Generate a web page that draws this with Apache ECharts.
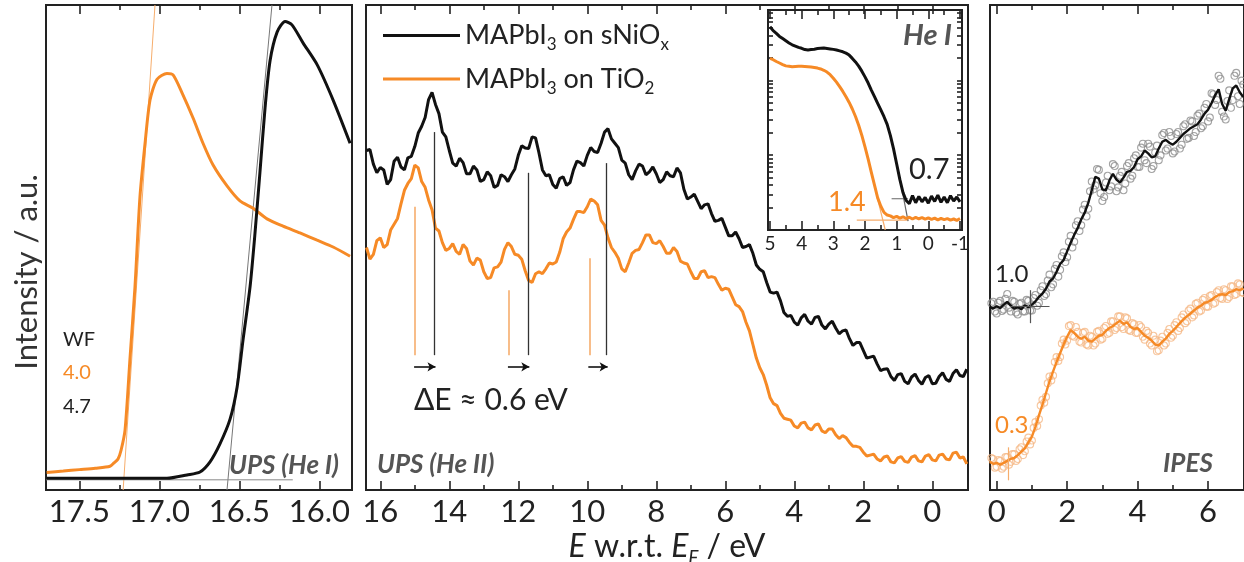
<!DOCTYPE html>
<html>
<head>
<meta charset="utf-8">
<script src="https://cdn.jsdelivr.net/npm/echarts@6/dist/echarts.min.js"></script>
<style>
  html, body { margin: 0; padding: 0; background: #fff; }
  #chart { width: 1244px; height: 562px; }
</style>
</head>
<body>
<div id="chart"></div>
<script>
// ---- data: SECO (He I), binding energy in eV, intensity a.u.
var secoOrangeE = [17.704, 17.6, 17.5, 17.4, 17.308, 17.283, 17.258, 17.239, 17.214, 17.183, 17.152, 17.121, 17.089, 17.058, 17.014, 16.952, 16.914, 16.858, 16.789, 16.727, 16.664, 16.577, 16.496, 16.414, 16.327, 16.227, 16.121, 16.014, 15.914, 15.808]
var secoOrangeI = [3.6, 3.9, 4.2, 4.5, 4.9, 5.6, 6.4, 8.2, 12.4, 27.2, 41.9, 60.4, 71.5, 80.4, 84.7, 85.9, 85.6, 81.9, 76.7, 71.5, 67.0, 62.7, 59.6, 58.1, 55.9, 54.4, 53.0, 51.5, 50.1, 48.2]
var secoBlackE = [17.704, 17.2, 16.952, 16.827, 16.746, 16.683, 16.621, 16.558, 16.514, 16.477, 16.433, 16.402, 16.371, 16.339, 16.308, 16.264, 16.214, 16.171, 16.102, 16.014, 15.914, 15.808]
var secoBlackI = [2.4, 2.4, 2.4, 3.1, 3.7, 5.8, 9.5, 14.6, 21.2, 30.9, 41.9, 53.0, 65.6, 78.9, 88.5, 94.4, 96.6, 95.9, 92.2, 87.7, 80.4, 71.5]
var secoFitOrange = [[17.226, 0], [17.027, 100]]
var secoFitBlack = [[16.577, 0], [16.296, 100]]
var secoBaseline = [[17.708, 2.1], [16.166, 2.1]]
var wfValues = ['4.0', '4.7']

// ---- data: UPS He II (two interleaved energy grids)
var upsE = [16.4, 16.2, 16.0, 15.8, 15.6, 15.4, 15.2, 15.0, 14.8, 14.6, 14.4, 14.2, 14.0, 13.8, 13.6, 13.4, 13.2, 13.0, 12.8, 12.6, 12.4, 12.2, 12.0, 11.8, 11.6, 11.4, 11.2, 11.0, 10.8, 10.6, 10.4, 10.2, 10.0, 9.8, 9.6, 9.4, 9.2, 9.0, 8.8, 8.6, 8.4, 8.2, 8.0, 7.8, 7.6, 7.4, 7.2, 7.0, 6.8, 6.6, 6.4, 6.2, 6.0, 5.8, 5.6, 5.4, 5.2, 5.0, 4.8, 4.6, 4.4, 4.2, 4.0, 3.8, 3.6, 3.4, 3.2, 3.0, 2.8, 2.6, 2.4, 2.2, 2.0, 1.8, 1.6, 1.4, 1.2, 1.0, 0.8, 0.6, 0.4, 0.2, 0.0, -0.2, -0.4, -0.6, -0.8, -1.0]
var upsBlack = [70.0, 67.2, 66.5, 63.0, 67.8, 66.6, 68.5, 70.8, 75.0, 80.5,
  79.5, 73.8, 70.0, 66.8, 67.5, 65.2, 66.0, 64.0, 64.8, 62.8,
  64.6, 65.0, 69.0, 70.5, 72.8, 69.5, 64.8, 63.0, 64.2, 62.8,
  66.0, 67.5, 69.0, 69.8, 71.5, 74.5, 71.5, 68.0, 65.0, 65.8,
  66.8, 65.6, 65.2, 64.0, 64.8, 66.4, 62.0, 60.4, 59.5, 58.8,
  57.0, 55.6, 54.2, 52.4, 51.8, 50.2, 48.8, 45.5, 42.8, 40.6,
  39.0, 35.8, 34.6, 35.5, 34.8, 35.6, 34.0, 34.2, 33.4, 32.8,
  31.2, 30.4, 28.8, 27.4, 26.0, 24.9, 23.4, 23.8, 22.4, 23.3,
  22.6, 23.2, 21.9, 23.4, 22.8, 24.0, 23.6, 24.9]
var upsOrange = [50.0, 48.6, 52.0, 50.6, 54.8, 59.0, 63.2, 67.0, 63.6, 59.8,
  54.0, 51.0, 49.8, 49.2, 50.6, 47.2, 47.8, 45.0, 43.8, 46.0,
  49.6, 50.2, 48.4, 45.2, 42.8, 45.0, 45.6, 46.6, 49.0, 53.2,
  55.8, 57.4, 58.4, 59.6, 55.6, 52.0, 49.0, 45.6, 46.8, 49.4,
  51.0, 52.6, 50.8, 50.2, 48.8, 49.2, 46.8, 45.0, 43.6, 45.2,
  44.0, 42.4, 41.6, 39.8, 37.8, 34.6, 30.0, 25.2, 21.6, 17.8,
  15.8, 14.6, 13.2, 13.8, 12.8, 13.4, 12.2, 12.6, 11.4, 11.2,
  9.8, 9.0, 7.8, 7.2, 6.4, 6.8, 5.8, 6.6, 5.9, 6.8,
  6.0, 7.0, 6.2, 7.2, 6.4, 7.6, 6.6, 5.4]
var upsEMid = [16.3, 16.1, 15.9, 15.7, 15.5, 15.3, 15.1, 14.9, 14.7, 14.5, 14.3, 14.1, 13.9, 13.7, 13.5, 13.3, 13.1, 12.9, 12.7, 12.5, 12.3, 12.1, 11.9, 11.7, 11.5, 11.3, 11.1, 10.9, 10.7, 10.5, 10.3, 10.1, 9.9, 9.7, 9.5, 9.3, 9.1, 8.9, 8.7, 8.5, 8.3, 8.1, 7.9, 7.7, 7.5, 7.3, 7.1, 6.9, 6.7, 6.5, 6.3, 6.1, 5.9, 5.7, 5.5, 5.3, 5.1, 4.9, 4.7, 4.5, 4.3, 4.1, 3.9, 3.7, 3.5, 3.3, 3.1, 2.9, 2.7, 2.5, 2.3, 2.1, 1.9, 1.7, 1.5, 1.3, 1.1, 0.9, 0.7, 0.5, 0.3, 0.1, -0.1, -0.3, -0.5, -0.7, -0.9]
var upsBlackMid = [70.2, 65.4, 66.0, 64.0, 68.6, 66.0, 68.8, 73.6, 76.8, 82.0,
  77.6, 72.8, 67.4, 68.4, 65.2, 66.8, 63.6, 65.6, 62.4, 65.0,
  63.6, 66.2, 71.0, 70.4, 72.6, 66.0, 65.0, 62.2, 64.6, 63.4,
  67.8, 66.8, 70.6, 69.6, 73.8, 72.4, 70.6, 67.4, 64.0, 67.2,
  65.0, 66.6, 63.4, 65.6, 64.6, 65.4, 60.0, 61.0, 58.0, 59.0,
  55.4, 56.0, 52.4, 53.2, 50.0, 50.6, 46.4, 45.0, 40.8, 40.8,
  36.6, 36.0, 34.0, 36.2, 34.2, 35.8, 33.2, 34.8, 32.2, 33.0,
  29.8, 30.4, 27.2, 27.6, 24.6, 25.0, 22.6, 24.0, 21.9, 23.9,
  21.8, 23.6, 22.0, 24.2, 22.4, 24.8, 23.4]
var upsOrangeMid = [47.6, 51.4, 50.0, 53.6, 56.0, 61.8, 64.2, 66.4, 62.4, 57.8,
  53.4, 49.4, 50.8, 48.6, 49.8, 46.4, 47.4, 43.6, 45.8, 47.0,
  51.0, 48.6, 47.6, 43.2, 44.6, 44.6, 46.8, 47.0, 51.8, 54.0,
  57.4, 57.2, 60.0, 58.8, 54.6, 50.0, 47.8, 45.0, 48.8, 49.6,
  52.6, 51.0, 51.4, 48.8, 50.0, 47.2, 46.6, 43.6, 45.0, 43.8,
  43.8, 41.2, 41.4, 38.2, 36.8, 32.8, 27.2, 23.8, 19.0, 17.4,
  14.8, 14.4, 12.8, 14.0, 12.4, 13.6, 11.8, 12.6, 10.6, 10.8,
  9.0, 8.8, 7.0, 7.4, 6.0, 7.0, 5.6, 6.9, 5.7, 7.1,
  5.8, 7.3, 6.0, 7.4, 6.2, 7.8, 6.8]
// peak positions used for the shift markers
var peakOrangeE = [14.99, 12.27, 9.94]
var peakBlackE = [14.44, 11.72, 9.45]
var peakOrangeTop = [58.4, 41.2, 47.8]
var peakBlackTop = [73.8, 65.4, 67.4]
var peakMarkBottom = 27.8
var shiftArrowI = 25.4

// ---- data: inset He I valence band edge
var vbmE = [5.0, 4.9, 4.8, 4.7, 4.6, 4.5, 4.4, 4.3, 4.2, 4.1, 4.0, 3.9, 3.8, 3.7, 3.6, 3.5, 3.4, 3.3, 3.2, 3.1, 3.0, 2.9, 2.8, 2.7, 2.6, 2.5, 2.4, 2.3, 2.2, 2.1, 2.0, 1.9, 1.8, 1.7, 1.6, 1.5, 1.4, 1.3, 1.2, 1.1, 1.0, 0.9, 0.8, 0.7, 0.6, 0.5, 0.4, 0.3, 0.2, 0.1, 0.0, -0.1, -0.2, -0.3, -0.4, -0.5, -0.6, -0.7, -0.8, -0.9, -1.0]
var vbmBlack = [92.4, 90.6, 89.4, 88.0, 87.0, 86.0, 85.0, 84.2, 83.6, 83.0,
  82.6, 82.0, 81.8, 82.0, 82.2, 82.5, 82.6, 82.7, 82.5, 82.3,
  82.1, 81.8, 81.4, 81.0, 80.4, 79.5, 78.0, 76.4, 74.5, 72.2,
  69.6, 66.8, 63.6, 60.6, 57.6, 54.6, 51.5, 48.0, 43.0, 37.0,
  30.0, 23.0, 17.0, 13.4, 12.0, 15.6, 12.4, 15.2, 12.8, 14.8,
  12.2, 15.4, 13.0, 15.8, 12.6, 15.0, 12.4, 15.6, 13.2, 15.0, 12.8]
var vbmOrange = [78.0, 77.4, 76.6, 75.9, 75.2, 74.6, 74.4, 74.2, 74.3, 74.4,
  74.4, 74.3, 74.2, 74.1, 73.9, 73.6, 73.2, 72.6, 71.8, 70.6,
  69.0, 67.2, 65.2, 63.0, 60.6, 58.0, 55.0, 51.6, 47.6, 43.0,
  37.8, 32.2, 26.2, 20.4, 14.6, 10.8, 8.0, 6.8, 6.4, 5.6,
  6.2, 5.4, 6.0, 5.2, 5.8, 5.0, 5.7, 5.1, 5.6, 4.9,
  5.5, 4.8, 5.4, 4.6, 5.3, 4.7, 5.2, 4.5, 5.0, 4.4, 5.2]
var vbmFitBlack = [[0.88, 22], [0.64, 4]]
var vbmBaseBlack = [[1.16, 14.2], [0.64, 14.2]]
var vbmFitOrange = [[1.65, 17], [1.36, 0]]
var vbmBaseOrange = [[2.26, 4.5], [0.63, 4.5]]
var vbmValues = ['0.7', '1.4']

// ---- data: IPES
var ipesE = [-0.2, -0.1, 0.0, 0.1, 0.2, 0.3, 0.4, 0.5, 0.6, 0.7, 0.8, 0.9, 1.0, 1.1, 1.2, 1.3, 1.4, 1.5, 1.6, 1.7, 1.8, 1.9, 2.0, 2.1, 2.2, 2.3, 2.4, 2.5, 2.6, 2.7, 2.8, 2.9, 3.0, 3.1, 3.2, 3.3, 3.4, 3.5, 3.6, 3.7, 3.8, 3.9, 4.0, 4.1, 4.2, 4.3, 4.4, 4.5, 4.6, 4.7, 4.8, 4.9, 5.0, 5.1, 5.2, 5.3, 5.4, 5.5, 5.6, 5.7, 5.8, 5.9, 6.0, 6.1, 6.2, 6.3, 6.4, 6.5, 6.6, 6.7, 6.8, 6.9, 7.0]
var ipesBlack = [37.8, 37.4, 37.9, 37.5, 38.2, 38.8, 38.0, 37.4, 37.7, 37.3,
  38.1, 37.7, 38.2, 38.9, 39.8, 40.5, 41.5, 43.0, 43.6, 45.0,
  46.6, 47.4, 49.2, 51.0, 52.6, 54.0, 55.8, 57.2, 59.2, 61.8,
  64.6, 64.2, 62.0, 61.8, 63.8, 65.2, 64.0, 63.4, 64.4, 65.6,
  65.8, 66.6, 68.2, 68.8, 70.0, 69.4, 68.6, 68.8, 70.4, 71.8,
  72.2, 71.6, 71.2, 71.8, 72.6, 73.4, 74.0, 74.6, 75.0, 75.4,
  76.4, 77.6, 78.4, 79.8, 81.4, 82.6, 79.6, 78.2, 80.6, 82.8,
  83.4, 82.0, 81.0]
var ipesOrange = [5.8, 5.4, 5.6, 5.2, 5.6, 6.0, 6.4, 6.6, 7.2, 7.9,
  8.6, 9.8, 11.0, 13.0, 15.4, 17.6, 20.0, 22.4, 24.4, 26.4,
  28.2, 30.0, 31.6, 33.0, 32.4, 31.6, 31.2, 31.6, 30.8, 30.6,
  31.2, 31.8, 32.0, 32.8, 33.4, 33.8, 34.4, 34.9, 34.2, 34.6,
  33.6, 33.2, 33.4, 32.6, 31.8, 31.4, 30.8, 30.0, 29.8, 30.6,
  31.2, 32.2, 32.8, 33.6, 34.4, 35.2, 35.8, 36.4, 37.0, 37.6,
  38.0, 38.6, 38.8, 39.2, 39.8, 40.2, 40.4, 40.2, 40.8, 41.0,
  41.4, 41.2, 41.6]
// raw IPES counts (open circles), two interleaved sets
var ipesRawE = [-0.15, -0.05, 0.05, 0.15, 0.25, 0.35, 0.45, 0.55, 0.65, 0.75, 0.85, 0.95, 1.05, 1.15, 1.25, 1.35, 1.45, 1.55, 1.65, 1.75, 1.85, 1.95, 2.05, 2.15, 2.25, 2.35, 2.45, 2.55, 2.65, 2.75, 2.85, 2.95, 3.05, 3.15, 3.25, 3.35, 3.45, 3.55, 3.65, 3.75, 3.85, 3.95, 4.05, 4.15, 4.25, 4.35, 4.45, 4.55, 4.65, 4.75, 4.85, 4.95, 5.05, 5.15, 5.25, 5.35, 5.45, 5.55, 5.65, 5.75, 5.85, 5.95, 6.05, 6.15, 6.25, 6.35, 6.45, 6.55, 6.65, 6.75, 6.85, 6.95]
var ipesRawBlackA = [38.5, 36.8, 38.6, 36.9, 39.4, 37.6, 39.0, 36.6, 38.4, 36.8,
  39.2, 37.0, 39.6, 38.0, 41.2, 40.0, 43.2, 41.8, 45.6, 44.0,
  48.2, 47.0, 51.2, 50.0, 54.6, 53.4, 57.8, 56.4, 61.6, 62.0,
  66.2, 61.2, 60.4, 64.8, 62.6, 66.8, 62.4, 65.6, 63.2, 67.4,
  64.8, 69.0, 66.6, 71.4, 67.4, 70.8, 66.8, 71.0, 69.0, 73.6,
  70.4, 73.0, 69.8, 73.8, 71.2, 75.4, 72.6, 76.0, 73.8, 77.6,
  75.0, 79.6, 76.8, 81.6, 80.4, 84.8, 77.0, 80.2, 78.8, 85.4,
  81.2, 84.4]
var ipesRawBlackB = [36.6, 38.8, 36.4, 39.0, 37.2, 40.4, 36.8, 38.8, 36.2, 38.6,
  36.8, 39.0, 37.0, 40.2, 38.6, 42.0, 40.4, 44.4, 42.4, 46.4,
  45.4, 49.0, 48.0, 52.4, 51.2, 55.4, 54.6, 58.8, 58.0, 63.6,
  62.8, 66.0, 59.6, 63.4, 61.8, 67.2, 61.6, 64.8, 61.8, 66.8,
  64.2, 68.4, 66.6, 70.6, 68.0, 71.4, 66.2, 69.6, 68.0, 73.2,
  70.0, 73.8, 69.4, 73.4, 70.4, 75.0, 72.4, 76.2, 73.0, 77.2,
  74.6, 78.8, 76.0, 81.8, 79.4, 85.4, 78.0, 76.4, 82.4, 80.4,
  86.0, 79.6, 83.6]
var ipesRawOrangeA = [6.6, 4.6, 6.2, 4.4, 6.8, 5.2, 7.4, 6.0, 8.4, 7.2,
  10.0, 9.4, 12.8, 13.2, 17.4, 18.0, 22.0, 22.6, 26.4, 26.6,
  30.2, 30.0, 33.8, 31.8, 33.6, 30.6, 32.4, 30.0, 31.8, 29.8,
  32.6, 31.0, 33.4, 32.2, 34.8, 33.0, 35.8, 33.6, 35.6, 33.0,
  34.4, 32.4, 34.0, 31.6, 32.8, 30.2, 31.8, 28.6, 30.8, 29.8,
  32.4, 31.4, 34.0, 32.8, 35.6, 34.4, 37.0, 35.6, 38.4, 36.8,
  39.2, 37.8, 40.0, 38.4, 40.8, 39.6, 41.4, 39.4, 42.0, 40.2,
  42.6, 40.8]
var ipesRawOrangeB = [5.0, 6.4, 4.8, 6.0, 4.8, 6.8, 5.8, 7.4, 6.4, 8.8,
  8.0, 10.8, 10.2, 14.0, 14.6, 18.6, 19.2, 23.4, 23.6, 27.4,
  27.4, 31.0, 30.8, 34.0, 31.6, 32.6, 30.4, 32.6, 29.8, 31.6,
  30.2, 32.8, 31.2, 33.8, 32.4, 34.8, 33.4, 35.8, 33.2, 35.4,
  32.8, 34.2, 32.4, 33.6, 31.0, 32.4, 29.8, 31.0, 28.8, 31.6,
  30.2, 33.2, 31.8, 34.6, 33.4, 36.2, 34.8, 37.4, 36.0, 38.6,
  37.0, 39.6, 37.8, 40.2, 38.6, 41.2, 39.4, 41.2, 39.8, 42.0,
  40.4, 42.4, 40.6]
var ipesOnsetE = [0.94, 0.33]
var ipesOnsetI = [37.8, 5.4]
var ipesValues = ['1.0', '0.3']

// ---- tick labels
var secoTicks = [17.5, 17.0, 16.5, 16.0]
var secoMinor = [17.25, 16.75, 16.25]
var upsTicks = [16, 14, 12, 10, 8, 6, 4, 2, 0]
var upsMinor = [15, 13, 11, 9, 7, 5, 3, 1]
var vbmTicks = [5, 4, 3, 2, 1, 0, -1]
var vbmMinor = [4.5, 3.5, 2.5, 1.5, 0.5, -0.5]
var vbmYTicks = [34, 68, 10.2, 16.2, 20.5, 23.8, 26.5, 28.7, 30.7, 32.4, 44.2, 50.2, 54.5, 57.8, 60.5, 62.7, 64.7, 66.4, 78.2, 84.2, 88.5, 91.8, 94.5, 96.7, 98.7]
var ipesTicks = [0, 2, 4, 6]
var ipesMinor = [1, 3, 5]

var FONT = 'Lato'
var ORANGE = '#f68a26'
var ORANGE_LIGHT = '#f6ad6c'
var BLACK = '#111'
var INK = '#222'

function pairs(xs, ys) {
  return xs.map(function(x, i) { return [x, ys[i]] })
}
// merge two sampled grids into one trace, ordered by energy
function merged(xa, ya, xb, yb) {
  return pairs(xa, ya).concat(pairs(xb, yb)).sort(function(p, q) { return q[0] - p[0] })
}

function tick(vals, len) {
  return { show: true, inside: true, length: len, customValues: vals, lineStyle: { color: INK, width: 1.6 } }
}

// four x axes per panel: bottom majors (with labels), bottom minors, top majors, top minors
function xAxisSet(grid, min, max, inverse, majors, minors, size, fmt) {
  var base = { gridIndex: grid, type: 'value', min: min, max: max, inverse: inverse, axisLine: { show: false, onZero: false }, splitLine: { show: false } }
  return [
    Object.assign({}, base, { position: 'bottom', axisTick: tick(majors, 9),
      axisLabel: { show: true, customValues: majors, formatter: fmt, fontSize: size, fontFamily: FONT, color: INK, margin: size > 22 ? 6 : 4 } }),
    Object.assign({}, base, { position: 'bottom', axisTick: tick(minors, 5), axisLabel: { show: false } }),
    Object.assign({}, base, { position: 'top', axisTick: tick(majors, 9), axisLabel: { show: false } }),
    Object.assign({}, base, { position: 'top', axisTick: tick(minors, 5), axisLabel: { show: false } })
  ]
}

function line(xi, yi, data, color, width, extra) {
  return Object.assign({
    type: 'line', xAxisIndex: xi, yAxisIndex: yi, data: data, showSymbol: false, symbol: 'none',
    lineStyle: { color: color, width: width }, itemStyle: { color: color }, z: 3, silent: true, animation: false
  }, extra || {})
}

function raw(xs, ys, color) {
  return {
    type: 'scatter', xAxisIndex: 8, yAxisIndex: 2, data: pairs(xs, ys), symbol: 'circle', symbolSize: 7,
    itemStyle: { color: 'rgba(0,0,0,0)', borderColor: color, borderWidth: 1.1 }, z: 2, silent: true, animation: false
  }
}

function cross(e, i, color) {
  return [
    [{ coord: [e - 0.56, i] }, { coord: [e + 0.56, i] }],
    [{ coord: [e, i + 3.4] }, { coord: [e, i - 3.4] }]
  ].map(function(seg) { seg[0].lineStyle = { color: color, width: 1.2, type: 'solid' }; return seg })
}

function txt(x, y, text, size, color, extra) {
  return {
    type: 'text', x: x, y: y, silent: true,
    style: Object.assign({ text: text, fontSize: size, fontFamily: FONT, fill: color, verticalAlign: 'middle' }, extra || {})
  }
}
function tag(x, y, text, size) {
  return txt(x, y, text, size, '#555', { fontStyle: 'italic', fontWeight: 'bold' })
}

var chart = echarts.init(document.getElementById('chart'))

var xAxes = []
  .concat(xAxisSet(0, 15.796, 17.708, true, secoTicks, secoMinor, 31, function(v) { return v.toFixed(1) }))
  .concat(xAxisSet(1, -1.035, 16.414, true, upsTicks, upsMinor, 31, function(v) { return String(v) }))
  .concat(xAxisSet(2, -0.189, 7.02, false, ipesTicks, ipesMinor, 31, function(v) { return String(v) }))
  .concat(xAxisSet(3, -1.063, 5.063, true, vbmTicks, vbmMinor, 19, function(v) { return String(v) }))

var insetY = { gridIndex: 3, type: 'value', min: 0, max: 100, axisLine: { show: false, onZero: false }, splitLine: { show: false }, axisLabel: { show: false }, axisTick: tick(vbmYTicks, 5) }

var legendText = {
  'MAPbI3 on sNiOx': '{m|MAPbI}{s|3}{m| on sNiO}{s|x}',
  'MAPbI3 on TiO2': '{m|MAPbI}{s|3}{m| on TiO}{s|2}'
}

var yLabel = txt(27, 272, 'Intensity / a.u.', 31, '#333', { align: 'center' })
yLabel.rotation = Math.PI / 2

var option = {
  backgroundColor: '#fff',
  animation: false,
  textStyle: { fontFamily: FONT },
  grid: [
    { left: 46, top: 5, width: 306, height: 485 },
    { left: 366, top: 5, width: 602, height: 485 },
    { left: 990, top: 5, width: 256, height: 485 },
    { left: 768, top: 10, width: 194, height: 220 }
  ].map(function(g) { return Object.assign({ show: true, borderColor: INK, borderWidth: 2, backgroundColor: 'rgba(0,0,0,0)' }, g) }),
  xAxis: xAxes,
  yAxis: [
    { gridIndex: 0, type: 'value', min: 0, max: 100, show: false },
    { gridIndex: 1, type: 'value', min: 0, max: 100, show: false },
    { gridIndex: 2, type: 'value', min: 0, max: 100, show: false },
    Object.assign({}, insetY, { position: 'left' }),
    Object.assign({}, insetY, { position: 'right' })
  ],
  legend: {
    data: ['MAPbI3 on sNiOx', 'MAPbI3 on TiO2'],
    orient: 'vertical', left: 378, top: 17, itemGap: 12,
    icon: 'rect', itemWidth: 77, itemHeight: 3, selectedMode: false,
    formatter: function(name) { return legendText[name] },
    textStyle: {
      color: INK, fontSize: 27, fontFamily: FONT,
      rich: {
        m: { fontSize: 27, lineHeight: 36, fontFamily: FONT, color: INK },
        s: { fontSize: 17, lineHeight: 14, fontFamily: FONT, color: INK, verticalAlign: 'bottom' }
      }
    }
  },
  series: [
    // SECO panel
    line(0, 0, secoFitOrange, ORANGE_LIGHT, 1, { z: 2 }),
    line(0, 0, secoFitBlack, '#777', 1, { z: 2 }),
    line(0, 0, secoBaseline, '#888', 1, { z: 2 }),
    line(0, 0, pairs(secoOrangeE, secoOrangeI), ORANGE, 3, { smooth: 0.25 }),
    line(0, 0, pairs(secoBlackE, secoBlackI), BLACK, 3, { smooth: 0.25 }),
    // He II panel
    line(4, 1, merged(upsE, upsBlack, upsEMid, upsBlackMid), BLACK, 3, {
      name: 'MAPbI3 on sNiOx',
      markLine: {
        silent: true, symbol: 'none', animation: false, label: { show: false },
        lineStyle: { color: '#333', width: 1.3, type: 'solid' },
        data: peakBlackE.map(function(e, i) {
          return [{ coord: [e, peakMarkBottom] }, { coord: [e, peakBlackTop[i]] }]
        }).concat(peakOrangeE.map(function(e, i) {
          return [{ coord: [e + 0.03, shiftArrowI], symbol: 'none', lineStyle: { color: BLACK, width: 1.6, type: 'solid' } },
                  { coord: [peakBlackE[i] - 0.04, shiftArrowI], symbol: 'arrow', symbolSize: [7, 8] }]
        }))
      }
    }),
    line(4, 1, merged(upsE, upsOrange, upsEMid, upsOrangeMid), ORANGE, 3, {
      name: 'MAPbI3 on TiO2',
      markLine: {
        silent: true, symbol: 'none', animation: false, label: { show: false },
        lineStyle: { color: ORANGE_LIGHT, width: 1.6, type: 'solid' },
        data: peakOrangeE.map(function(e, i) {
          return [{ coord: [e, peakMarkBottom] }, { coord: [e, peakOrangeTop[i]] }]
        })
      }
    }),
    // He I inset
    line(12, 3, vbmBaseOrange, ORANGE_LIGHT, 1.2, { z: 2 }),
    line(12, 3, vbmFitOrange, ORANGE_LIGHT, 1.2, { z: 2 }),
    line(12, 3, vbmBaseBlack, '#666', 1.2, { z: 2 }),
    line(12, 3, vbmFitBlack, '#666', 1.2, { z: 2 }),
    line(12, 3, pairs(vbmE, vbmOrange), ORANGE, 3),
    line(12, 3, pairs(vbmE, vbmBlack), BLACK, 3),
    // IPES panel
    raw(ipesRawE, ipesRawBlackA, '#8c8c8c'),
    raw(ipesE, ipesRawBlackB, '#8c8c8c'),
    raw(ipesRawE, ipesRawOrangeA, '#f5b886'),
    raw(ipesE, ipesRawOrangeB, '#f5b886'),
    line(8, 2, pairs(ipesE, ipesBlack), BLACK, 2.4, {
      markLine: { silent: true, symbol: 'none', animation: false, label: { show: false }, data: cross(ipesOnsetE[0], ipesOnsetI[0], '#555') }
    }),
    line(8, 2, pairs(ipesE, ipesOrange), ORANGE, 2.4, {
      markLine: { silent: true, symbol: 'none', animation: false, label: { show: false }, data: cross(ipesOnsetE[1], ipesOnsetI[1], ORANGE_LIGHT) }
    })
  ],
  graphic: [
    yLabel,
    txt(63, 340, 'WF', 20, INK),
    txt(63, 373, wfValues[0], 20, ORANGE),
    txt(63, 407, wfValues[1], 20, INK),
    tag(229, 466, 'UPS (He I)', 26),
    tag(377, 465, 'UPS (He II)', 26),
    txt(414, 400, 'ΔE ≈ 0.6 eV', 30, INK),
    tag(903, 36, 'He I', 29),
    txt(909, 170, vbmValues[0], 29, INK),
    txt(828, 202, vbmValues[1], 27, ORANGE),
    txt(995, 274, ipesValues[0], 24, INK),
    txt(995, 425, ipesValues[1], 24, ORANGE),
    tag(1163, 464, 'IPES', 26),
    {
      type: 'text', x: 667, y: 547, silent: true,
      style: {
        text: '{i|E} w.r.t. {i|E}{s|F} / eV', fontSize: 32, fontFamily: FONT, fill: INK,
        align: 'center', verticalAlign: 'middle', lineHeight: 40,
        rich: {
          i: { fontStyle: 'italic', fontSize: 32, fontFamily: FONT, fill: INK, lineHeight: 40 },
          s: { fontStyle: 'italic', fontSize: 19, fontFamily: FONT, fill: INK, lineHeight: 14, verticalAlign: 'bottom' }
        }
      }
    }
  ]
}

chart.setOption(option)
</script>
</body>
</html>
